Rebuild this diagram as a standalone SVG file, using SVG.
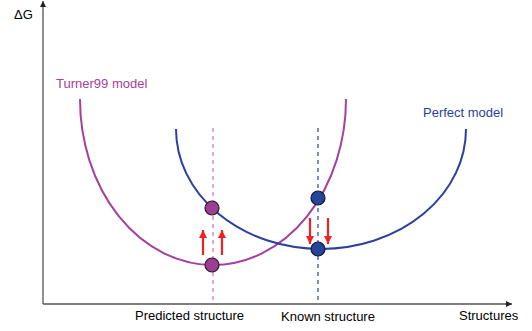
<svg xmlns="http://www.w3.org/2000/svg" width="532" height="331" viewBox="0 0 532 331">
<defs>
<style>
text{font-family:"Liberation Sans",Arial,sans-serif;font-size:13px}
.axis{stroke:#555;stroke-width:1.3;fill:none}
.mag{stroke:#a4409e;stroke-width:2;fill:none}
.blu{stroke:#2a3f9f;stroke-width:2;fill:none}
.dm{stroke:#c47fbe;stroke-width:1.3;stroke-dasharray:4,4;fill:none}
.db{stroke:#2a3f9f;stroke-width:1.2;stroke-dasharray:4,4;fill:none}
.red{stroke:#ee2222;stroke-width:2.2;fill:none}
</style>
<marker id="ax" markerWidth="8" markerHeight="8" refX="6" refY="3" orient="auto" markerUnits="userSpaceOnUse"><path d="M0,0 L6,3 L0,6 Z" fill="#222"/></marker>
<marker id="ra" markerWidth="10" markerHeight="10" refX="8" refY="4" orient="auto" markerUnits="userSpaceOnUse"><path d="M0,0 L8,4 L0,8 Z" fill="#ee2222"/></marker>
</defs>
<g id="axes">
<path class="axis" d="M43,304 L43,1" marker-end="url(#ax)"/>
<path class="axis" d="M43,304 L512,304" marker-end="url(#ax)"/>
<text x="14" y="19">ΔG</text>
<text x="459" y="320">Structures</text>
</g>
<g id="connectors">
<path class="dm" d="M213,128 L213,303"/>
<path class="db" d="M318,128 L318,303"/>
<path class="red" d="M203,255 L203,230" marker-end="url(#ra)"/>
<path class="red" d="M222,255 L222,230" marker-end="url(#ra)"/>
<path class="red" d="M310,218 L310,244" marker-end="url(#ra)"/>
<path class="red" d="M328,218 L328,244" marker-end="url(#ra)"/>
</g>
<g id="turner99">
<path class="mag" d="M80,99 A133,166 0 0 0 346,99"/>
<text x="56" y="88" fill="#a4409e">Turner99 model</text>
</g>
<g id="perfect">
<path class="blu" d="M176,129 A145,120 0 0 0 466,129"/>
<text x="423" y="117" fill="#2a3f9f">Perfect model</text>
</g>
<g id="predicted">
<circle cx="212" cy="208" r="7" fill="#9c3f93" stroke="#2a1830" stroke-width="1.2"/>
<circle cx="212" cy="265" r="7" fill="#9c3f93" stroke="#2a1830" stroke-width="1.2"/>
<text x="135" y="320">Predicted structure</text>
</g>
<g id="known">
<circle cx="318" cy="198" r="7" fill="#25449a" stroke="#101830" stroke-width="1.2"/>
<circle cx="318" cy="249" r="7" fill="#25449a" stroke="#101830" stroke-width="1.2"/>
<text x="281" y="321">Known structure</text>
</g>
</svg>
